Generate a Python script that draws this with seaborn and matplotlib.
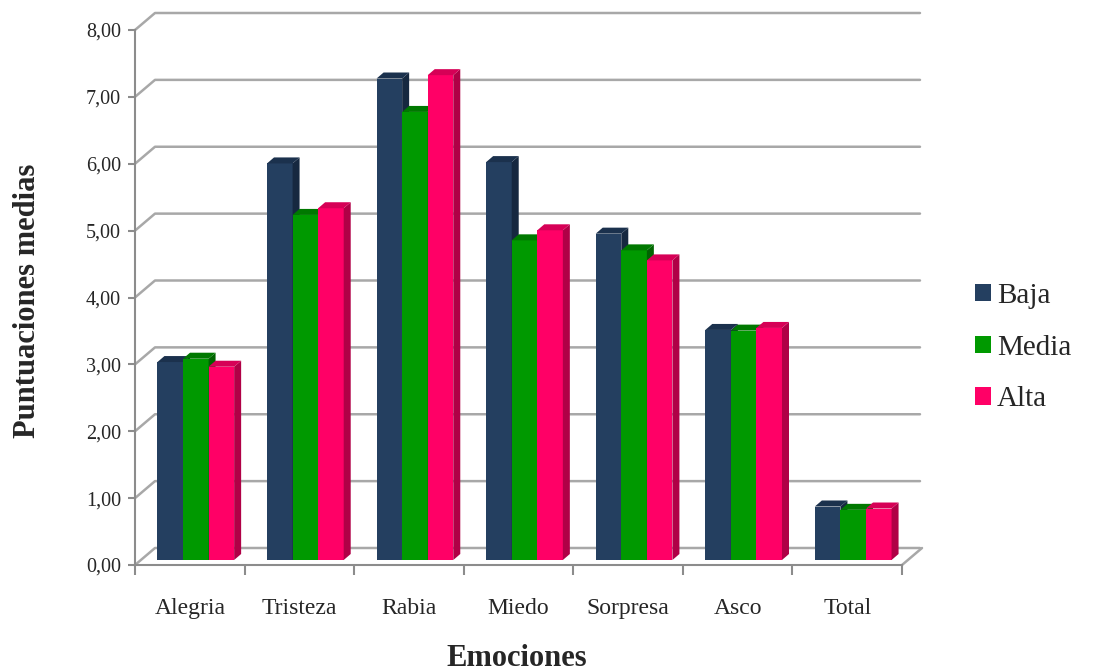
import numpy as np
import pandas as pd
import matplotlib
matplotlib.use("Agg")
import matplotlib.pyplot as plt
import seaborn as sns
from matplotlib.patches import Polygon, Patch
from matplotlib.lines import Line2D
from matplotlib.transforms import ScaledTranslation, IdentityTransform
from matplotlib.colors import to_rgb

# Mean scores per emotion and group
emociones = ["Alegria", "Tristeza", "Rabia", "Miedo", "Sorpresa", "Asco", "Total"]
baja = [2.96, 5.93, 7.20, 5.95, 4.88, 3.44, 0.80]
media = [3.01, 5.16, 6.70, 4.78, 4.63, 3.43, 0.75]
alta = [2.89, 5.26, 7.25, 4.93, 4.48, 3.47, 0.77]
niveles = ["Baja", "Media", "Alta"]
y_ticks = list(range(0, 9))

colores = {"Baja": "#243f60", "Media": "#009900", "Alta": "#ff0066"}
laterales = {"Baja": "#162840", "Media": "#006400", "Alta": "#b00046"}
superiores = {"Baja": "#1b314d", "Media": "#007800", "Alta": "#d60056"}

df = pd.DataFrame({
    "Emocion": emociones * 3,
    "Valor": baja + media + alta,
    "Nivel": [n for n in niveles for _ in emociones],
})

sns.set_theme(style="white")
plt.rcParams["font.family"] = ["Liberation Serif", "DejaVu Serif"]

W, H, DPI = 1093, 672, 100
fig = plt.figure(figsize=(W / DPI, H / DPI), dpi=DPI)
fig.patch.set_facecolor("white")

# front plane of the pseudo-3D box, in pixels
X0, X1 = 135, 902
Y0, Y8 = 565, 30
ax = fig.add_axes([X0 / W, (H - Y0) / H, (X1 - X0) / W, (Y0 - Y8) / H])
ax.set_facecolor("none")

sns.barplot(data=df, x="Emocion", y="Valor", hue="Nivel", order=emociones,
            hue_order=niveles, palette=colores, width=0.7, saturation=1,
            legend=False, linewidth=0, edgecolor="none", ax=ax)
ax.set_xlim(-0.5, len(emociones) - 0.5)
ax.set_ylim(0, 8)

GRID = "#a8a8a8"
WALL_DX, WALL_DY = 20, 17     # depth of the back wall (px)
BAR_DX, BAR_DY = 6, 5         # bars sit slightly behind the front plane
DEPTH_DX, DEPTH_DY = 7, 6     # thickness of each column

ident = IdentityTransform()

# back wall gridlines with their diagonal returns to the front axis
for v in y_ticks:
    fx, fy = ax.transData.transform((-0.5, v))
    ax.add_artist(Line2D([fx, fx + WALL_DX, 920], [fy, fy + WALL_DY, fy + WALL_DY],
                         transform=ident, color=GRID, lw=1.8, clip_on=False, zorder=1))
# right edge of the floor
rx, ry = ax.transData.transform((len(emociones) - 0.5, 0))
ax.add_artist(Line2D([rx, rx + WALL_DX], [ry, ry + WALL_DY], transform=ident,
                     color=GRID, lw=1.8, clip_on=False, zorder=1))

# columns: shift the fronts back a little and add side and top faces
shift = ScaledTranslation(BAR_DX / DPI, BAR_DY / DPI, fig.dpi_scale_trans)
rgb_to_nivel = {tuple(np.round(to_rgb(c), 3)): n for n, c in colores.items()}
for p in list(ax.patches):
    nivel = rgb_to_nivel.get(tuple(np.round(p.get_facecolor()[:3], 3)))
    if nivel is None:
        continue
    k = niveles.index(nivel)
    z = 3 + 0.1 * k
    p.set_transform(ax.transData + shift)
    p.set_zorder(z)
    p.set_clip_on(False)
    x0, w, h = p.get_x(), p.get_width(), p.get_height()
    (ax0, ay0), (ax1, ay1) = ax.transData.transform([(x0, 0), (x0 + w, h)])
    ax0 += BAR_DX; ax1 += BAR_DX; ay0 += BAR_DY; ay1 += BAR_DY
    side = Polygon([(ax1, ay0), (ax1 + DEPTH_DX, ay0 + DEPTH_DY),
                    (ax1 + DEPTH_DX, ay1 + DEPTH_DY), (ax1, ay1)],
                   closed=True, transform=ident, facecolor=laterales[nivel],
                   edgecolor="none", clip_on=False, zorder=z + 0.01)
    top = Polygon([(ax0, ay1), (ax1, ay1), (ax1 + DEPTH_DX, ay1 + DEPTH_DY),
                   (ax0 + DEPTH_DX, ay1 + DEPTH_DY)],
                  closed=True, transform=ident, facecolor=superiores[nivel],
                  edgecolor="none", clip_on=False, zorder=z + 0.02)
    ax.add_artist(side)
    ax.add_artist(top)

# axes, ticks and labels
for s in ["top", "right"]:
    ax.spines[s].set_visible(False)
for s in ["left", "bottom"]:
    ax.spines[s].set_color("#8c8c8c")
    ax.spines[s].set_linewidth(1.5)
    ax.spines[s].set_zorder(2)

ax.set_yticks(y_ticks)
ax.set_yticklabels([f"{v:.2f}".replace(".", ",") for v in y_ticks], fontsize=14.5)
ax.set_xticks(range(len(emociones)))
ax.set_xticklabels(emociones, fontsize=17)
ax.set_xticks(np.arange(-0.5, len(emociones)), minor=True)
ax.tick_params(axis="y", which="major", direction="out", length=5, width=1.5,
               color="#8c8c8c", pad=5, left=True)
ax.tick_params(axis="x", which="major", length=0, pad=24)
ax.tick_params(axis="x", which="minor", direction="out", length=7, width=1.5,
               color="#8c8c8c", bottom=True)
ax.set_xlabel("")
ax.set_ylabel("")
ax.grid(False)

fig.text(517 / W, 1 - 658 / H, "Emociones", ha="center", va="center",
         fontsize=22, fontweight="bold")
fig.text(28 / W, 1 - 301 / H, "Puntuaciones medias", ha="center", va="center",
         rotation=90, fontsize=22, fontweight="bold")

handles = [Patch(facecolor=colores[n], edgecolor="none", label=n) for n in niveles]
fig.legend(handles=handles, loc="upper left", bbox_to_anchor=(975 / W, 1 - 283 / H),
           frameon=False, fontsize=21, handlelength=0.55, handleheight=0.55,
           handletextpad=0.2, labelspacing=0.88, borderpad=0, borderaxespad=0)

fig.savefig("out.png", dpi=DPI, facecolor="white")
